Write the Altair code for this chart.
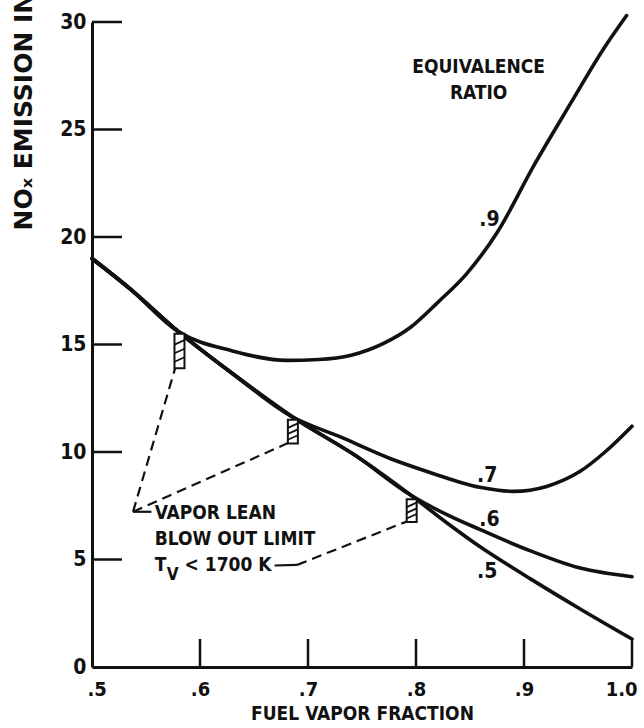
import altair as alt
import pandas as pd

# ---------------- data ----------------
phi9_x = [0.50, 0.535, 0.58, 0.63, 0.68, 0.71, 0.74, 0.77, 0.795, 0.82, 0.847, 0.875, 0.91, 0.943, 0.973, 0.995]
phi9_y = [19.0, 17.6, 15.6, 14.7, 14.26, 14.3, 14.5, 15.05, 15.8, 16.95, 18.3, 20.2, 23.4, 26.2, 28.7, 30.3]

phi7_x = [0.50, 0.535, 0.58, 0.63, 0.685, 0.73, 0.776, 0.813, 0.859, 0.89, 0.921, 0.952, 0.975, 1.0]
phi7_y = [19.0, 17.6, 15.6, 13.65, 11.65, 10.7, 9.7, 9.05, 8.36, 8.17, 8.4, 9.1, 10.0, 11.2]

phi6_x = [0.50, 0.535, 0.58, 0.63, 0.685, 0.745, 0.795, 0.83, 0.859, 0.906, 0.952, 1.0]
phi6_y = [19.0, 17.6, 15.6, 13.65, 11.65, 9.8, 8.0, 7.05, 6.4, 5.4, 4.6, 4.2]

phi5_x = [0.50, 0.535, 0.58, 0.63, 0.685, 0.745, 0.795, 0.83, 0.859, 0.906, 0.952, 1.0]
phi5_y = [19.0, 17.6, 15.6, 13.65, 11.65, 9.8, 8.0, 6.65, 5.6, 4.1, 2.7, 1.3]

x_ticks = [0.5, 0.6, 0.7, 0.8, 0.9, 1.0]
y_ticks = [0, 5, 10, 15, 20, 25, 30]

curve_labels = [".9", ".7", ".6", ".5"]
curve_label_x = [0.868, 0.866, 0.868, 0.866]
curve_label_y = [20.8, 8.9, 6.85, 4.4]

legend_title = ["EQUIVALENCE", "RATIO"]
legend_title_x = [0.858, 0.858]
legend_title_y = [27.9, 26.7]

note_text = ["VAPOR LEAN", "BLOW OUT LIMIT", "T", "< 1700 K"]
note_x = [0.558, 0.558, 0.558, 0.5857]
note_y = [7.18, 5.95, 4.74, 4.74]
note_sub_text = ["V"]
note_sub_x = [0.5692]
note_sub_y = [4.3]

# blow-out limit markers (hatched boxes)
hatch_x = [0.581, 0.686, 0.796]
hatch_lo = [13.9, 10.4, 6.75]
hatch_hi = [15.5, 11.5, 7.8]

# leader lines (dashed) and their solid stubs
lead_id = ["a", "a", "b", "b", "c", "c"]
lead_x = [0.538, 0.577, 0.538, 0.683, 0.69, 0.792]
lead_y = [7.22, 13.9, 7.22, 10.45, 4.75, 6.78]
stub_id = ["a", "a", "b", "b"]
stub_x = [0.538, 0.555, 0.669, 0.69]
stub_y = [7.22, 7.22, 4.72, 4.75]

# ---------------- tables ----------------
rows = []
for name, xs_, ys_ in [(".9", phi9_x, phi9_y), (".7", phi7_x, phi7_y),
                       (".6", phi6_x, phi6_y), (".5", phi5_x, phi5_y)]:
    for a, b in zip(xs_, ys_):
        rows.append({"ratio": name, "x": a, "y": b})
curves = pd.DataFrame(rows)

hatch = pd.DataFrame({"x": hatch_x, "y": hatch_lo, "y2": hatch_hi})
hatch_lines = pd.DataFrame([
    {"x": hx, "y": lo + f * (hi - lo)}
    for hx, lo, hi in zip(hatch_x, hatch_lo, hatch_hi) for f in (0.25, 0.5, 0.75)
])
leads = pd.DataFrame({"id": lead_id, "x": lead_x, "y": lead_y})
stubs = pd.DataFrame({"id": stub_id, "x": stub_x, "y": stub_y})
clabels = pd.DataFrame({"t": curve_labels, "x": curve_label_x, "y": curve_label_y})
ltitle = pd.DataFrame({"t": legend_title, "x": legend_title_x, "y": legend_title_y})
notes = pd.DataFrame({"t": note_text, "x": note_x, "y": note_y})
notes_sub = pd.DataFrame({"t": note_sub_text, "x": note_sub_x, "y": note_sub_y})
xt = pd.DataFrame({"x": x_ticks[1:]})
yt = pd.DataFrame({"y": y_ticks[1:]})

FONT = "DejaVu Sans Condensed, DejaVu Sans, sans-serif"
INK = "#111111"

xs = alt.Scale(domain=[0.5, 1.0], nice=False, zero=False)
ys = alt.Scale(domain=[0, 30], nice=False, zero=False)

x_axis = alt.Axis(
    values=x_ticks, ticks=False, grid=False,
    labelExpr="datum.value >= 1 ? '1.0' : '.' + format(datum.value * 10, '.0f')",
    domainColor=INK, domainWidth=3,
    labelFont=FONT, labelFontSize=20, labelFontWeight="bold", labelColor=INK,
    labelPadding=12, labelFlush=True, labelFlushOffset=5,
    title="FUEL VAPOR FRACTION", titleFont=FONT, titleFontSize=19,
    titleFontWeight="bold", titleColor=INK, titlePadding=5,
)
y_axis = alt.Axis(
    values=y_ticks, ticks=False, grid=False,
    domainColor=INK, domainWidth=3,
    labelFont=FONT, labelFontSize=21, labelFontWeight="bold", labelColor=INK,
    labelPadding=6,
    title="NOₓ EMISSION INDEX", titleFont="DejaVu Sans", titleFontSize=25,
    titleFontWeight="bold", titleColor=INK, titleAngle=270,
    titleAlign="left", titleBaseline="middle", titleX=-69, titleY=208,
)

X = alt.X("x:Q", scale=xs, axis=x_axis)
Y = alt.Y("y:Q", scale=ys, axis=y_axis)

lines = alt.Chart(curves).mark_line(
    interpolate="monotone", color=INK, strokeWidth=3.6, strokeCap="round"
).encode(x=X, y=Y, detail="ratio:N")

x_tick_rules = alt.Chart(xt).mark_rule(color=INK, strokeWidth=2.5).encode(
    x=X, y=alt.value(645), y2=alt.value(617),
)
y_tick_rules = alt.Chart(yt).mark_rule(color=INK, strokeWidth=2.5).encode(
    y=Y, x=alt.value(0), x2=alt.value(30),
)

hatch_box = alt.Chart(hatch).mark_rect(
    width=10, fill="white", stroke=INK, strokeWidth=2
).encode(x=X, y=Y, y2="y2:Q")
hatch_marks = alt.Chart(hatch_lines).mark_point(
    shape="M -1 0.45 L 1 -0.45", size=100, filled=False, stroke=INK, strokeWidth=1.8, opacity=1
).encode(x=X, y=Y)

lead_lines = alt.Chart(leads).mark_line(
    color=INK, strokeWidth=2.2, strokeDash=[10, 6]
).encode(x=X, y=Y, detail="id:N")
stub_lines = alt.Chart(stubs).mark_line(color=INK, strokeWidth=2.2).encode(
    x=X, y=Y, detail="id:N")

def text_layer(df, align, size=19):
    return alt.Chart(df).mark_text(
        font=FONT, fontSize=size, fontWeight="bold", color=INK,
        align=align, baseline="middle"
    ).encode(x=X, y=Y, text="t:N")

chart = alt.layer(
    lines, x_tick_rules, y_tick_rules, lead_lines, stub_lines,
    hatch_box, hatch_marks,
    text_layer(clabels, "center", 21),
    text_layer(ltitle, "center", 19),
    text_layer(notes, "left", 19),
    text_layer(notes_sub, "left", 17),
).properties(
    width=540, height=645,
    autosize=alt.AutoSizeParams(type="none"),
    padding={"left": 92, "top": 22, "right": 12, "bottom": 61},
    background="white",
).configure_view(stroke=None)

chart.save("out.html", embed_options={"renderer": "svg", "actions": False})
